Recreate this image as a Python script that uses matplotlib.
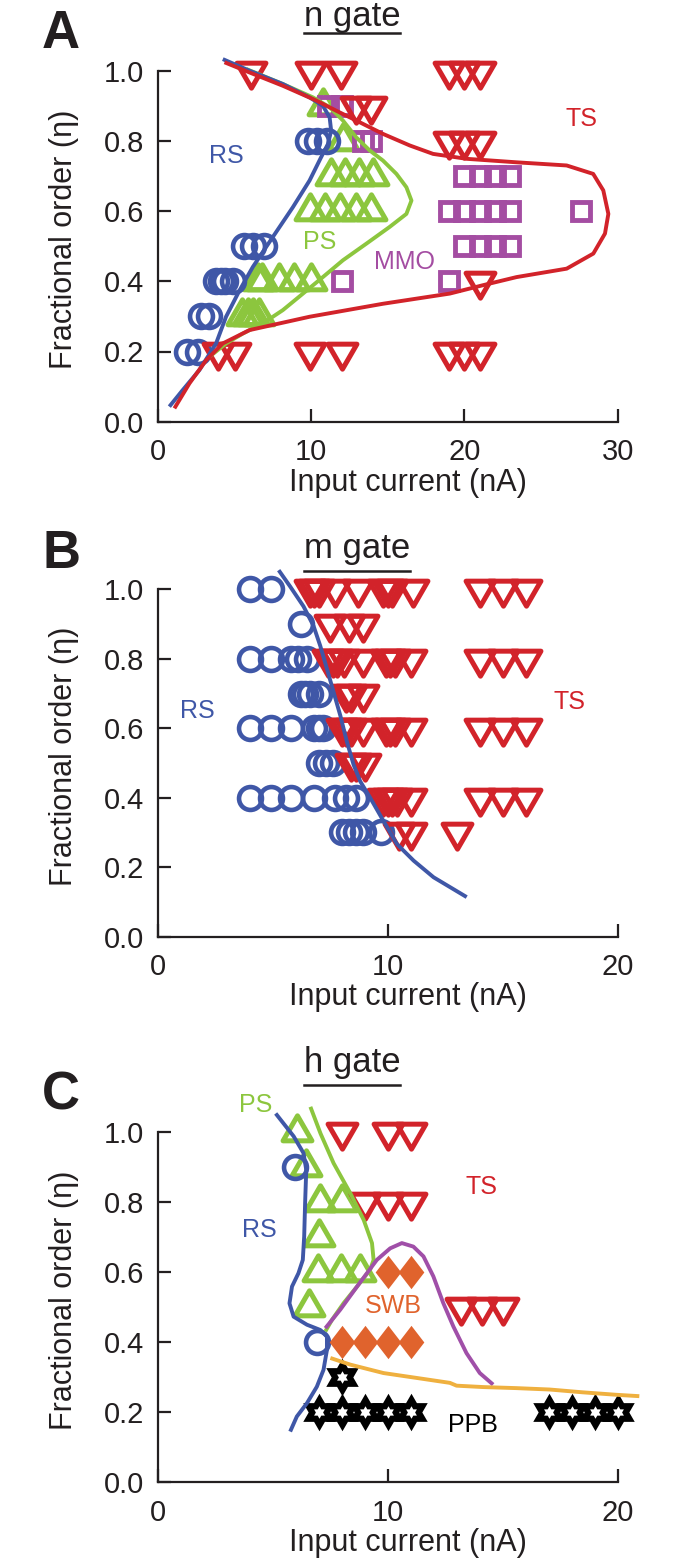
import numpy as np
import matplotlib
matplotlib.use('Agg')
import matplotlib.pyplot as plt
from matplotlib.markers import MarkerStyle
from matplotlib.path import Path
from matplotlib.lines import Line2D

plt.rcParams['font.family'] = ['Liberation Sans', 'DejaVu Sans']

BLUE = '#3F57A7'
RED = '#D2232A'
GREEN = '#8CC63E'
PURPLE = '#A44DA2'
ORANGE = '#E0632D'
YELLOW = '#EFB03F'
INK = '#231F20'

# ---------------- panel A : n gate ----------------
a_rs_x = [9.8, 10.4, 11.0, 5.6, 6.2, 6.9, 3.8, 4.1, 4.4, 4.9, 2.8, 3.3, 1.9, 2.6]
a_rs_y = [0.8, 0.8, 0.8, 0.5, 0.5, 0.5, 0.4, 0.4, 0.4, 0.4, 0.3, 0.3, 0.2, 0.2]

a_ps_x = [10.8, 12.1, 11.3, 12.2, 13.1, 14.0, 9.9, 10.9, 11.9, 12.9, 13.9,
          6.5, 6.8, 7.9, 8.9, 10.0, 5.5, 5.9, 6.2, 6.6]
a_ps_y = [0.9, 0.8, 0.7, 0.7, 0.7, 0.7, 0.6, 0.6, 0.6, 0.6, 0.6,
          0.4, 0.4, 0.4, 0.4, 0.4, 0.3, 0.3, 0.3, 0.3]

a_mmo_x = [11.1, 12.0, 13.4, 13.9, 20.0, 21.0, 22.0, 23.0, 19.0, 20.0, 21.0, 22.0, 23.0, 27.6,
           20.0, 21.0, 22.0, 23.0, 12.0, 19.0]
a_mmo_y = [0.9, 0.9, 0.8, 0.8, 0.7, 0.7, 0.7, 0.7, 0.6, 0.6, 0.6, 0.6, 0.6, 0.6,
           0.5, 0.5, 0.5, 0.5, 0.4, 0.4]

a_ts_x = [6.1, 10.0, 11.95, 19.0, 20.0, 21.0, 12.9, 13.9, 19.0, 20.0, 21.0, 21.0,
          3.9, 5.0, 9.9, 12.0, 19.0, 20.0, 21.0]
a_ts_y = [1.0, 1.0, 1.0, 1.0, 1.0, 1.0, 0.9, 0.9, 0.8, 0.8, 0.8, 0.4,
          0.2, 0.2, 0.2, 0.2, 0.2, 0.2, 0.2]

a_rs_line_x = [4.23, 5.97, 8.15, 9.89, 10.76, 11.2, 11.3, 11.09, 10.65, 9.89, 8.8, 7.49,
               6.19, 5.32, 4.44, 3.79, 2.7, 1.61, 0.74]
a_rs_line_y = [1.033, 1.0, 0.962, 0.924, 0.9, 0.867, 0.829, 0.791, 0.754, 0.687, 0.611, 0.526,
               0.441, 0.374, 0.299, 0.223, 0.147, 0.09, 0.043]

a_ps_line_x = [5.75, 8.15, 10.11, 11.2, 12.07, 12.94, 13.81, 14.68, 15.56, 16.21, 16.54,
               16.21, 15.12, 13.59, 12.07, 10.76, 9.46, 8.15, 6.84, 5.53, 4.44, 3.36]
a_ps_line_y = [1.005, 0.962, 0.924, 0.896, 0.858, 0.81, 0.773, 0.744, 0.706, 0.668, 0.63,
               0.592, 0.555, 0.507, 0.46, 0.412, 0.365, 0.318, 0.28, 0.251, 0.223, 0.185]

a_ts_line_x = [4.34, 5.97, 8.15, 10.33, 11.63, 12.94, 14.68, 16.43, 17.95, 20.13, 23.4, 26.67,
               28.4, 29.06, 29.39, 29.17, 28.41, 26.67, 23.4, 21.22, 19.04, 14.68, 9.89,
               5.97, 4.23, 3.14, 2.05, 1.07]
a_ts_line_y = [1.024, 0.995, 0.957, 0.915, 0.886, 0.858, 0.82, 0.787, 0.763, 0.749, 0.739, 0.73,
               0.706, 0.659, 0.592, 0.536, 0.479, 0.436, 0.412, 0.389, 0.365, 0.336, 0.299,
               0.261, 0.223, 0.175, 0.109, 0.038]

# ---------------- panel B : m gate ----------------
b_rs_x = [4.0, 4.9, 6.2, 4.0, 4.9, 5.8, 6.1, 6.5, 6.2, 6.4, 6.6, 7.0,
          4.0, 4.9, 5.8, 6.8, 7.0, 7.2, 7.0, 7.3, 7.6,
          4.0, 4.9, 5.8, 6.8, 7.7, 8.2, 8.6, 8.0, 8.3, 8.6, 8.9, 9.7]
b_rs_y = [1.0, 1.0, 0.9, 0.8, 0.8, 0.8, 0.8, 0.8, 0.7, 0.7, 0.7, 0.7,
          0.6, 0.6, 0.6, 0.6, 0.6, 0.6, 0.5, 0.5, 0.5,
          0.4, 0.4, 0.4, 0.4, 0.4, 0.4, 0.4, 0.3, 0.3, 0.3, 0.3, 0.3]

b_ts_x = [6.6, 6.8, 7.0, 7.7, 8.7, 9.8, 10.0, 10.2, 11.1, 14.0, 15.0, 16.0,
          7.5, 8.3, 8.9,
          7.4, 7.6, 7.8, 8.1, 8.9, 9.9, 10.1, 10.3, 11.0, 14.0, 15.0, 16.0,
          8.2, 8.4, 8.9,
          8.0, 8.2, 8.4, 8.9, 9.9, 10.1, 10.3, 11.0, 14.0, 15.0, 16.0,
          8.4, 8.6, 9.0,
          9.8, 10.0, 10.2, 10.4, 11.0, 14.0, 15.0, 16.0,
          10.5, 11.0, 13.0]
b_ts_y = [1.0, 1.0, 1.0, 1.0, 1.0, 1.0, 1.0, 1.0, 1.0, 1.0, 1.0, 1.0,
          0.9, 0.9, 0.9,
          0.8, 0.8, 0.8, 0.8, 0.8, 0.8, 0.8, 0.8, 0.8, 0.8, 0.8, 0.8,
          0.7, 0.7, 0.7,
          0.6, 0.6, 0.6, 0.6, 0.6, 0.6, 0.6, 0.6, 0.6, 0.6, 0.6,
          0.5, 0.5, 0.5,
          0.4, 0.4, 0.4, 0.4, 0.4, 0.4, 0.4, 0.4,
          0.3, 0.3, 0.3]

b_rs_line_x = [5.25, 5.75, 6.33, 6.77, 7.06, 7.35, 7.64, 7.93, 8.22, 8.51, 8.8, 9.23,
               9.81, 10.39, 11.12, 11.99, 13.43]
b_rs_line_y = [1.055, 1.008, 0.951, 0.894, 0.837, 0.771, 0.704, 0.637, 0.561, 0.495, 0.447, 0.4,
               0.333, 0.267, 0.219, 0.171, 0.114]

# ---------------- panel C : h gate ----------------
c_rs_x = [5.95, 6.9]
c_rs_y = [0.9, 0.4]

c_ps_x = [6.05, 6.45, 7.05, 8.0, 7.0, 6.95, 7.95, 8.8, 6.55]
c_ps_y = [1.0, 0.9, 0.8, 0.8, 0.7, 0.6, 0.6, 0.6, 0.5]

c_ts_x = [8.0, 10.0, 11.0, 9.0, 10.0, 11.0, 13.2, 14.1, 15.0]
c_ts_y = [1.0, 1.0, 1.0, 0.8, 0.8, 0.8, 0.5, 0.5, 0.5]

c_swb_x = [10.0, 11.0, 8.0, 9.0, 10.0, 11.0]
c_swb_y = [0.6, 0.6, 0.4, 0.4, 0.4, 0.4]

c_ppb_x = [8.0, 7.0, 8.0, 9.0, 10.0, 11.0, 17.0, 18.0, 19.0, 20.0]
c_ppb_y = [0.3, 0.2, 0.2, 0.2, 0.2, 0.2, 0.2, 0.2, 0.2, 0.2]

c_rs_line_x = [5.12, 5.9, 6.33, 6.45, 6.4, 6.36, 6.3, 6.11, 5.83, 5.72, 5.9, 6.48, 7.06,
               7.35, 7.35, 7.2, 6.91, 6.48, 6.04, 5.75]
c_rs_line_y = [1.052, 0.987, 0.939, 0.891, 0.796, 0.701, 0.634, 0.596, 0.558, 0.51, 0.472,
               0.449, 0.434, 0.415, 0.377, 0.32, 0.272, 0.225, 0.187, 0.144]

c_ps_line_x = [6.63, 7.07, 7.64, 8.37, 8.95, 9.31, 9.38, 9.23, 8.66, 8.08, 7.57, 7.28]
c_ps_line_y = [1.071, 0.995, 0.91, 0.824, 0.748, 0.682, 0.634, 0.606, 0.558, 0.511, 0.463, 0.43]

c_swb_line_x = [7.28, 7.93, 8.66, 9.52, 10.1, 10.61, 11.11, 11.55, 11.98, 12.41, 12.85,
                13.42, 14.0, 14.58]
c_swb_line_y = [0.439, 0.492, 0.558, 0.634, 0.667, 0.682, 0.672, 0.644, 0.587, 0.511, 0.444,
                0.368, 0.311, 0.278]

c_ppb_line_x = [7.5, 8.37, 9.81, 11.26, 12.7, 12.99, 14.15, 15.59, 17.04, 18.48, 19.93, 20.94]
c_ppb_line_y = [0.354, 0.335, 0.311, 0.297, 0.283, 0.275, 0.271, 0.268, 0.264, 0.256, 0.249, 0.245]

y_ticks = [0.0, 0.2, 0.4, 0.6, 0.8, 1.0]
y_ticklabels = ['0.0', '0.2', '0.4', '0.6', '0.8', '1.0']


# marker shapes
def closed(v):
    v = list(v)
    return Path(np.array(v + [v[0]]), closed=True)

s3 = np.sqrt(3)
tri_down = MarkerStyle(closed([(-1, 1 / s3), (1, 1 / s3), (0, -2 / s3)]), joinstyle='miter')
tri_up = MarkerStyle(closed([(-1, -1 / s3), (1, -1 / s3), (0, 2 / s3)]), joinstyle='miter')
diamond = MarkerStyle(closed([(0, 1), (0.77, 0), (0, -1), (-0.77, 0)]), joinstyle='miter')
ang = np.deg2rad(90 + 30 * np.arange(12))
rad = np.where(np.arange(12) % 2 == 0, 1.0, 1 / s3)
hexagram = MarkerStyle(closed(zip(rad * np.cos(ang), rad * np.sin(ang))), joinstyle='miter')


def pts(ax, x, y, kind, color):
    if kind == 'ts':
        ax.plot(x, y, ls='none', marker=tri_down, ms=24, mfc='none', mec=color, mew=3.6, clip_on=False)
    elif kind == 'ps':
        ax.plot(x, y, ls='none', marker=tri_up, ms=24, mfc='none', mec=color, mew=3.6, clip_on=False)
    elif kind == 'rs':
        ax.plot(x, y, ls='none', marker='o', ms=16.5, mfc='none', mec=color, mew=3.3, clip_on=False)
    elif kind == 'mmo':
        ax.plot(x, y, ls='none', marker='s', ms=13.5, mfc='none', mec=color, mew=3.5, clip_on=False)
    elif kind == 'swb':
        ax.plot(x, y, ls='none', marker=diamond, ms=24, mfc=color, mec='none', clip_on=False)
    elif kind == 'ppb':
        ax.plot(x, y, ls='none', marker=hexagram, ms=27, mfc=color, mec='none', clip_on=False)
        ax.plot(x, y, ls='none', marker=hexagram, ms=9, mfc='white', mec='none', clip_on=False)


def line(ax, x, y, color):
    ax.plot(x, y, color=color, lw=2.8, solid_joinstyle='round', solid_capstyle='butt', clip_on=False)


def style(ax, xmax, xticks):
    ax.set_xlim(0, xmax)
    ax.set_ylim(0, 1)
    ax.spines['top'].set_visible(False)
    ax.spines['right'].set_visible(False)
    for s in ['left', 'bottom']:
        ax.spines[s].set_linewidth(1.6)
        ax.spines[s].set_color(INK)
    ax.set_xticks(xticks)
    ax.set_xticklabels([str(t) for t in xticks])
    ax.set_yticks(y_ticks)
    ax.set_yticklabels(y_ticklabels)
    ax.tick_params(direction='in', length=9.5, width=1.6, color=INK, labelcolor=INK, labelsize=21)
    ax.tick_params(axis='x', pad=12)
    ax.tick_params(axis='y', pad=10)
    ax.text(0.544, -0.175, 'Input current (nA)', transform=ax.transAxes, ha='center', va='center',
            fontsize=22, color=INK)
    ax.text(-0.205, 0.52, 'Fractional order (\u03b7)', transform=ax.transAxes, ha='center', va='center',
            rotation=90, fontsize=22, color=INK)


W, H = 692, 1565
fig = plt.figure(figsize=(W / 100, H / 100), dpi=100)

axA = fig.add_axes([158 / W, 1 - 421.7 / H, 459.7 / W, 351 / H])
axB = fig.add_axes([158 / W, 1 - 936.7 / H, 459.7 / W, 347.4 / H])
axC = fig.add_axes([158 / W, 1 - 1482 / H, 459.7 / W, 350.3 / H])

# A
pts(axA, a_ps_x, a_ps_y, 'ps', GREEN)
pts(axA, a_rs_x, a_rs_y, 'rs', BLUE)
pts(axA, a_mmo_x, a_mmo_y, 'mmo', PURPLE)
pts(axA, a_ts_x, a_ts_y, 'ts', RED)
line(axA, a_ps_line_x, a_ps_line_y, GREEN)
line(axA, a_rs_line_x, a_rs_line_y, BLUE)
line(axA, a_ts_line_x, a_ts_line_y, RED)
style(axA, 30, [0, 10, 20, 30])
axA.text(4.44, 0.758, 'RS', color=BLUE, fontsize=18, ha='center', va='center')
axA.text(10.54, 0.512, 'PS', color=GREEN, fontsize=18, ha='center', va='center')
axA.text(16.1, 0.455, 'MMO', color=PURPLE, fontsize=18, ha='center', va='center')
axA.text(27.65, 0.863, 'TS', color=RED, fontsize=18, ha='center', va='center')

# B
pts(axB, b_rs_x, b_rs_y, 'rs', BLUE)
pts(axB, b_ts_x, b_ts_y, 'ts', RED)
line(axB, b_rs_line_x, b_rs_line_y, BLUE)
style(axB, 20, [0, 10, 20])
axB.text(1.7, 0.651, 'RS', color=BLUE, fontsize=18, ha='center', va='center')
axB.text(17.9, 0.675, 'TS', color=RED, fontsize=18, ha='center', va='center')

# C
pts(axC, c_ps_x, c_ps_y, 'ps', GREEN)
pts(axC, c_rs_x, c_rs_y, 'rs', BLUE)
pts(axC, c_ts_x, c_ts_y, 'ts', RED)
pts(axC, c_swb_x, c_swb_y, 'swb', ORANGE)
pts(axC, c_ppb_x, c_ppb_y, 'ppb', 'black')
line(axC, c_ps_line_x, c_ps_line_y, GREEN)
line(axC, c_swb_line_x, c_swb_line_y, '#A04FA8')
line(axC, c_ppb_line_x, c_ppb_line_y, YELLOW)
line(axC, c_rs_line_x, c_rs_line_y, BLUE)
style(axC, 20, [0, 10, 20])
axC.text(4.23, 1.077, 'PS', color=GREEN, fontsize=18, ha='center', va='center', clip_on=False)
axC.text(4.39, 0.72, 'RS', color=BLUE, fontsize=18, ha='center', va='center')
axC.text(14.07, 0.843, 'TS', color=RED, fontsize=18, ha='center', va='center')
axC.text(10.25, 0.501, 'SWB', color=ORANGE, fontsize=18, ha='center', va='center')
axC.text(13.71, 0.164, 'PPB', color='black', fontsize=18, ha='center', va='center')

# panel letters and underlined titles
for letter, by in [('A', 48), ('B', 568), ('C', 1109)]:
    fig.text(42 / W, 1 - by / H, letter, fontsize=38, fontweight='bold', color=INK,
             ha='left', va='baseline')

titles = []
for name, cx, by, uy in [('n gate', 352, 26, 33), ('m gate', 357, 558, 571), ('h gate', 352, 1072, 1085)]:
    t = fig.text(cx / W, 1 - by / H, name, fontsize=25, color=INK, ha='center', va='baseline')
    titles.append((t, 1 - uy / H))

fig.canvas.draw()
r = fig.canvas.get_renderer()
for t, yu in titles:
    bb = t.get_window_extent(r).transformed(fig.transFigure.inverted())
    fig.add_artist(Line2D([bb.x0, bb.x1], [yu, yu], transform=fig.transFigure, color=INK, lw=1.8))

fig.savefig('out.png', dpi=100)
